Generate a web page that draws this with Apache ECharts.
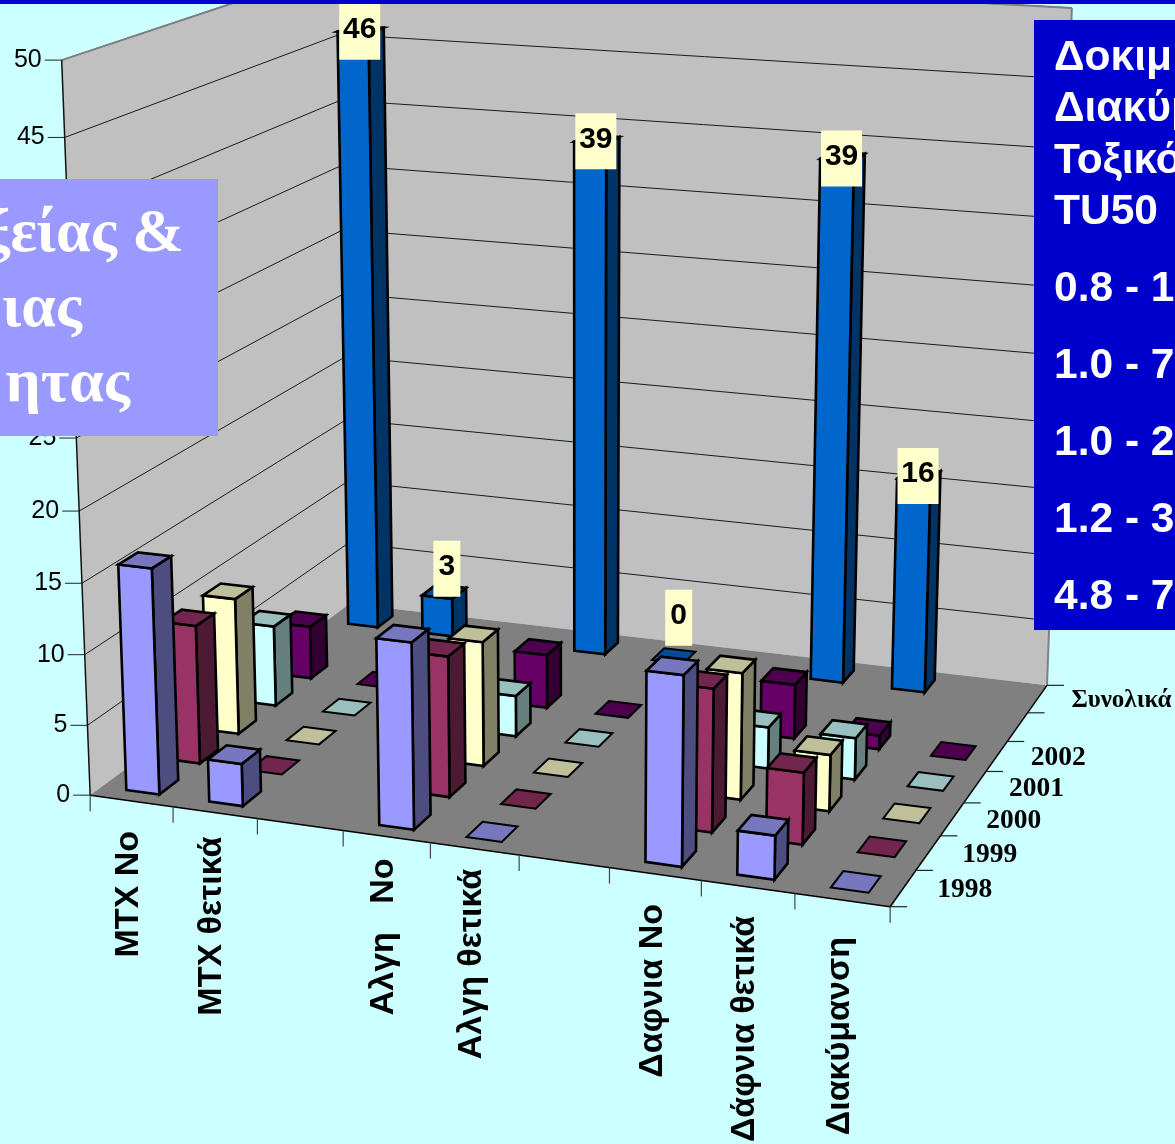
<!DOCTYPE html>
<html>
<head>
<meta charset="utf-8">
<style>html,body{margin:0;padding:0;background:#CCFFFF;overflow:hidden}#chart{width:1175px;height:1144px}</style>
<script src="https://cdn.jsdelivr.net/npm/echarts@6/dist/echarts.min.js"></script>
</head>
<body>
<div id="chart"></div>
<script>
// Tests per category and per year
const categories = ['MTX No', 'MTX θετικά', '', 'Αλγη   No', 'Αλγη θετικά', '', 'Δαφνια No', 'Δάφνια θετικά', 'Διακύμανση'];
const depthLabels = ['1998', '1999', '2000', '2001', '2002', '', 'Συνολικά'];
const valueTicks = [0, 5, 10, 15, 20, 25, 30, 35, 40, 45, 50];
const values1998 = [16, 3, null, 13, 0, null, 13, 3, 0];
const values1999 = [10, 0, null, 10, 0, null, 10, 5, 0];
const values2000 = [10, 0, null, 9, 0, null, 9, 4, 0];
const values2001 = [6, 0, null, 3, 0, null, 3, 3, 0];
const values2002 = [4, 0, null, 4, 0, null, 4, 1, 0];
const valuesTotal = [46, 3, null, 39, 0, null, 39, 16, null];

const panelTitle = ['ξείας &', 'ιας', 'ητας'];
const panelRanges = ['Δοκιμ', 'Διακύμ', 'Τοξικό', 'TU50', '0.8 - 1', '1.0 - 7', '1.0 - 2', '1.2 - 3', '4.8 - 7'];

const yearSeries = [
  { name: 'Συνολικά', slot: 6, values: valuesTotal, front: '#0066CC', side: '#003366', top: '#004C99' },
  { name: '2002', slot: 4, values: values2002, front: '#660066', side: '#330033', top: '#4D004D' },
  { name: '2001', slot: 3, values: values2001, front: '#CCFFFF', side: '#668080', top: '#99BFBF' },
  { name: '2000', slot: 2, values: values2000, front: '#FFFFCC', side: '#808066', top: '#BFBF99' },
  { name: '1999', slot: 1, values: values1999, front: '#993366', side: '#4D1A33', top: '#73264D' },
  { name: '1998', slot: 0, values: values1998, front: '#9999FF', side: '#4D4D80', top: '#7777BF' }
];

// Hidden cartesian scales; their output is carried into the 3D box by the camera below.
const GRID = { left: 0, top: 0, width: 900, height: 1000 };
const BAR_SHARE = 0.40, DEPTH_SHARE = 0.46;
// Distance from the front edge of the floor to the start of each category caption.
const captionGaps = [30, 24, 0, 22, 20, 0, 30, 29, 37];

// Camera fitted to the corners of the box: (along, depth, height) -> screen.
const boxCorners = [
  [0, 0, 0, 90, 795], [0, 0, 1, 62, 60], [1, 0, 0, 890, 907],
  [0, 1, 0, 350, 604], [0, 1, 1, 338, -32], [1, 1, 0, 1047, 685], [1, 1, 1, 1072, 8]
];
function fitCamera(pts) {
  const n = 11, A = [], b = [];
  pts.forEach(([u, v, h, x, y]) => {
    A.push([u, v, h, 1, 0, 0, 0, 0, -u * x, -v * x, -h * x]); b.push(x);
    A.push([0, 0, 0, 0, u, v, h, 1, -u * y, -v * y, -h * y]); b.push(y);
  });
  const M = [];
  for (let i = 0; i < n; i++) {
    M.push([]);
    for (let j = 0; j < n; j++) M[i].push(A.reduce((s, r) => s + r[i] * r[j], 0));
    M[i].push(A.reduce((s, r, k) => s + r[i] * b[k], 0));
  }
  for (let c = 0; c < n; c++) {
    let p = c;
    for (let r = c + 1; r < n; r++) if (Math.abs(M[r][c]) > Math.abs(M[p][c])) p = r;
    [M[c], M[p]] = [M[p], M[c]];
    for (let r = 0; r < n; r++) {
      if (r === c) continue;
      const f = M[r][c] / M[c][c];
      for (let k = c; k <= n; k++) M[r][k] -= f * M[c][k];
    }
  }
  return M.map((r, i) => r[n] / r[i]);
}
const cam = fitCamera(boxCorners);
function project(u, v, h) {
  const w = cam[8] * u + cam[9] * v + cam[10] * h + 1;
  return [(cam[0] * u + cam[1] * v + cam[2] * h + cam[3]) / w,
          (cam[4] * u + cam[5] * v + cam[6] * h + cam[7]) / w];
}
const toUnit = (api, cat, val) => {
  const p = api.coord([cat, val]);
  return [(p[0] - GRID.left) / GRID.width, (GRID.top + GRID.height - p[1]) / GRID.height];
};
const poly = (points, fill, stroke, lineWidth) => ({
  type: 'polygon', shape: { points },
  style: { fill, stroke: stroke || 'none', lineWidth: lineWidth || 0, lineJoin: 'miter' }
});
const line = (a, b, stroke, lineWidth) => ({
  type: 'polyline', shape: { points: [a, b] }, style: { fill: 'none', stroke, lineWidth }
});
const label = (text, x, y, font, align, extra) => Object.assign({
  type: 'text', x, y,
  style: { text, x: 0, y: 0, font, fill: '#000', align, verticalAlign: 'middle' }
}, extra || {});

function pairs(values) {
  const out = [];
  values.forEach((v, i) => { if (v !== null) out.push([i, v]); });
  return out;
}

// One cuboid per data item: side, front and lid.
function barRenderer(s) {
  return function (params, api) {
    const cat = api.value(0), val = api.value(1);
    const [uc, h] = toUnit(api, cat, val);
    const halfU = api.size([1, 0])[0] / GRID.width * BAR_SHARE / 2;
    const slots = depthLabels.length;
    const v0 = (s.slot + 0.5 - DEPTH_SHARE / 2) / slots, v1 = (s.slot + 0.5 + DEPTH_SHARE / 2) / slots;
    const u0 = uc - halfU, u1 = uc + halfU;
    const sw = val === 0 ? 2 : 2.6;
    const children = [];
    if (val > 0) {
      children.push(poly([project(u1, v0, 0), project(u1, v1, 0), project(u1, v1, h), project(u1, v0, h)], s.side, '#000', sw));
      children.push(poly([project(u0, v0, 0), project(u1, v0, 0), project(u1, v0, h), project(u0, v0, h)], s.front, '#000', sw));
    }
    children.push(poly([project(u0, v0, h), project(u1, v0, h), project(u1, v1, h), project(u0, v1, h)], s.top, '#000', sw));
    return { type: 'group', children };
  };
}

// Walls, floor, gridlines, axis lines, ticks and their labels.
function frameRenderer(params, api) {
  const kids = [];
  const slots = depthLabels.length, cats = categories.length;
  kids.push(poly([project(0, 0, 0), project(0, 0, 1), project(0, 1, 1), project(0, 1, 0)], '#C0C0C0'));
  kids.push(poly([project(0, 1, 0), project(0, 1, 1), project(1, 1, 1), project(1, 1, 0)], '#C0C0C0'));
  kids.push(poly([project(0, 0, 0), project(1, 0, 0), project(1, 1, 0), project(0, 1, 0)], '#808080'));
  valueTicks.forEach(t => {
    const h = toUnit(api, 0, t)[1];
    const a = project(0, 0, h);
    if (t > 0) {
      kids.push({ type: 'polyline', shape: { points: [a, project(0, 1, h), project(1, 1, h)] }, style: { fill: 'none', stroke: '#1a1a1a', lineWidth: 1 } });
    }
    kids.push(line([a[0] - 17, a[1]], a, '#222', 1));
    kids.push(label(String(t), a[0] - 20, a[1], '25px "Liberation Sans"', 'right'));
  });
  kids.push(line(project(0, 0, 1), project(0, 1, 1), '#808080', 2));
  kids.push(line(project(0, 1, 1), project(1, 1, 1), '#808080', 2));
  kids.push(line(project(1, 1, 1), project(1, 1, 0), '#808080', 2));
  kids.push(line(project(0, 0, 0), project(0, 0, 1), '#111', 1.5));
  kids.push(line(project(0, 0, 0), project(1, 0, 0), '#000', 1.5));
  kids.push(line(project(1, 0, 0), project(1, 1, 0), '#000', 1.5));
  for (let i = 0; i <= cats; i++) {
    const p = project(i / cats, 0, 0);
    kids.push(line(p, [p[0], p[1] + 16], '#444', 1.2));
  }
  categories.forEach((c, i) => {
    if (!c) return;
    const p = project((i + 0.5) / cats, 0, 0);
    kids.push(label(c, p[0] - 3, p[1] + captionGaps[i], 'bold 34px "Liberation Sans"', 'right', { rotation: Math.PI / 2 }));
  });
  for (let k = 0; k <= slots; k++) {
    const p = project(1, k / slots, 0);
    kids.push(line(p, [p[0] + 17, p[1]], '#222', 1.2));
  }
  depthLabels.forEach((d, k) => {
    if (!d) return;
    const p = project(1, (k + 0.5) / slots, 0);
    const font = d.length > 4 ? 'bold 25px "Liberation Serif"' : 'bold 27.5px "Liberation Serif"';
    kids.push(label(d, p[0] + 34, p[1] + 2, font, 'left'));
  });
  return { type: 'group', children: kids };
}

// Cream value boxes for the overall totals; short bars carry theirs above the lid.
function totalLabelRenderer(params, api) {
  const cat = api.value(0), val = api.value(1);
  const [uc, h] = toUnit(api, cat, val);
  const p = project(uc, (6 + 0.5) / depthLabels.length, h);
  const fade = Math.exp(-val / 7 - val * val / 200);
  const cx = p[0] - 1 + 6 * fade, cy = p[1] + 2 - 40 * fade;
  const text = String(val), w = text.length > 1 ? 41 : 27;
  return {
    type: 'group',
    children: [
      { type: 'rect', shape: { x: cx - w / 2, y: cy - 28, width: w, height: 56 }, style: { fill: '#FFFFCC' } },
      { type: 'text', x: cx, y: cy - 2, style: { text, x: 0, y: 0, font: 'bold 30px "Liberation Sans"', fill: '#000', align: 'center', verticalAlign: 'middle' } }
    ]
  };
}

const series = [{
  type: 'custom', name: 'frame', renderItem: frameRenderer, data: [[0, 0]], silent: true, animation: false, z: 1
}];
yearSeries.forEach((s, i) => series.push({
  type: 'custom', name: s.name, renderItem: barRenderer(s), data: pairs(s.values),
  encode: { x: 0, y: 1 }, silent: true, animation: false, z: 2 + i
}));
series.push({
  type: 'custom', name: 'totals', renderItem: totalLabelRenderer, data: pairs(valuesTotal),
  encode: { x: 0, y: 1 }, silent: true, animation: false, z: 20
});

// Text boxes over the chart; y values are the top of each text line.
const titleTops = [204, 279, 354], titleEnds = [184, 82, 130];
const rangeTops = [37, 88, 140, 191, 268, 345, 422, 499, 576];
const overlays = [
  { type: 'rect', z: 100, shape: { x: 0, y: 179, width: 218, height: 257 }, style: { fill: '#9999FF' } },
  { type: 'rect', z: 100, shape: { x: 1034, y: 20, width: 141, height: 610 }, style: { fill: '#0000CC' } },
  { type: 'rect', z: 101, shape: { x: 0, y: 0, width: 1175, height: 4 }, style: { fill: '#0000CC' } }
];
panelTitle.forEach((t, i) => overlays.push({
  type: 'text', z: 102, x: titleEnds[i], y: titleTops[i],
  style: { text: t, x: 0, y: 0, font: 'bold 62px "Liberation Serif"', fill: '#fff', align: 'right', verticalAlign: 'top' }
}));
panelRanges.forEach((t, i) => overlays.push({
  type: 'text', z: 102, x: 1054, y: rangeTops[i],
  style: { text: t, x: 0, y: 0, font: 'bold 42.5px "Liberation Sans"', fill: '#fff', align: 'left', verticalAlign: 'top' }
}));

const chart = echarts.init(document.getElementById('chart'), null, { renderer: 'canvas' });
chart.setOption({
  backgroundColor: '#CCFFFF',
  animation: false,
  grid: GRID,
  xAxis: { type: 'category', data: categories, show: false },
  yAxis: { type: 'value', min: 0, max: 50, interval: 5, show: false },
  series,
  graphic: overlays
});
</script>
</body>
</html>
